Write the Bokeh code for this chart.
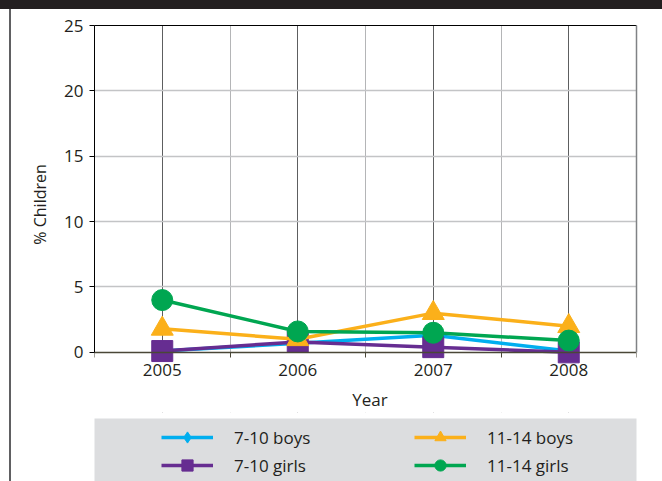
from bokeh.plotting import figure
from bokeh.models import (Range1d, FixedTicker, LinearAxis, Legend, LegendItem,
                          BoxAnnotation, Spacer)
from bokeh.layouts import column, row
from bokeh.embed import file_html
from bokeh.resources import INLINE

# ---- data ----
years = [2005, 2006, 2007, 2008]
boys_7_10 = [0.1, 0.7, 1.3, 0.1]
girls_7_10 = [0.1, 0.8, 0.4, 0.0]
boys_11_14 = [1.8, 1.0, 3.0, 2.0]
girls_11_14 = [4.0, 1.6, 1.5, 0.9]
series_labels = ["7-10 boys", "7-10 girls", "11-14 boys", "11-14 girls"]
y_ticks = [0, 5, 10, 15, 20, 25]
year_bounds = [2004.5, 2005.5, 2006.5, 2007.5, 2008.5]

FONT = "Open Sans"
TXT = "#231f20"
BLUE, PURPLE, ORANGE, GREEN = "#00aeef", "#662d91", "#fbb01a", "#00a651"

Y_LOW = -4.6  # frame extends below zero so the x-axis labels (drawn at y=0) are not clipped

p = figure(width=651, height=409,
           x_range=Range1d(2004.5, 2008.5), y_range=Range1d(Y_LOW, 25),
           output_backend="svg", toolbar_location=None,
           min_border_left=82, min_border_right=26, min_border_top=16, min_border_bottom=6,
           outline_line_color=None,
           x_axis_label="\u00a0\u00a0Year", y_axis_label="\u00a0" * 7 + "% Children")

# x axis (at y = 0)
xa = p.xaxis[0]
xa.ticker = FixedTicker(ticks=years, minor_ticks=year_bounds)
xa.fixed_location = 0
xa.major_tick_out = 0
xa.major_tick_in = 0
xa.minor_tick_out = 5
xa.minor_tick_in = 0
xa.minor_tick_line_color = "#4a4737"
xa.axis_line_color = "#4a4737"
xa.axis_line_width = 1.5
xa.major_label_standoff = 7
xa.major_label_text_font = FONT
xa.major_label_text_font_size = "17px"
xa.major_label_text_color = TXT
xa.axis_label_standoff = 8
xa.axis_label_text_font = FONT
xa.axis_label_text_font_size = "17px"
xa.axis_label_text_font_style = "normal"
xa.axis_label_text_color = TXT

ya = p.yaxis[0]
ya.ticker = FixedTicker(ticks=y_ticks)
ya.bounds = (0, 25)
ya.major_tick_out = 5
ya.major_tick_in = 0
ya.minor_tick_out = 0
ya.axis_line_color = "black"
ya.major_tick_line_color = "black"
ya.major_label_standoff = 6
ya.major_label_text_font = FONT
ya.major_label_text_font_size = "17px"
ya.major_label_text_color = TXT
ya.axis_label_standoff = 10
ya.axis_label_text_font = FONT
ya.axis_label_text_font_size = "16px"
ya.axis_label_text_font_style = "normal"
ya.axis_label_text_color = TXT

right_ax = LinearAxis(ticker=FixedTicker(ticks=[]), bounds=(0, 25),
                      axis_line_color="#808285", axis_line_width=1.5,
                      major_tick_line_color=None, minor_tick_line_color=None)
p.add_layout(right_ax, "right")
top_ax = LinearAxis(ticker=FixedTicker(ticks=[]), axis_line_color="black",
                    major_tick_line_color=None, minor_tick_line_color=None)
p.add_layout(top_ax, "above")

# grids
p.xgrid.ticker = FixedTicker(ticks=years, minor_ticks=year_bounds)
p.xgrid.grid_line_color = "#5d5e60"
p.xgrid.grid_line_width = 1
p.xgrid.minor_grid_line_color = "#b4b5b7"
p.xgrid.level = "image"
p.ygrid.ticker = FixedTicker(ticks=[5, 10, 15, 20])
p.ygrid.grid_line_color = "#c3c4c6"
p.ygrid.grid_line_width = 1.5
p.ygrid.level = "image"

# hide grid below zero
p.add_layout(BoxAnnotation(bottom=Y_LOW, top=0, fill_color="white", fill_alpha=1,
                           line_color=None, level="underlay"))

# series
p.line(years, boys_7_10, line_color=BLUE, line_width=3.5)
p.scatter(years, boys_7_10, marker="diamond", size=18, color=BLUE)
p.line(years, girls_7_10, line_color=PURPLE, line_width=3.5)
p.scatter(years, girls_7_10, marker="square", size=21, color=PURPLE)
p.line(years, boys_11_14, line_color=ORANGE, line_width=3.5)
p.scatter(years, boys_11_14, marker="triangle", size=22, color=ORANGE)
p.line(years, girls_11_14, line_color=GREEN, line_width=3.5)
p.scatter(years, girls_11_14, marker="circle", size=21, color=GREEN)

# ---- legend panel ----
lg = figure(width=651, height=63, x_range=Range1d(0, 1), y_range=Range1d(0, 1),
            output_backend="svg", toolbar_location=None,
            min_border_left=83, min_border_right=24, min_border_top=0, min_border_bottom=0,
            outline_line_color=None, background_fill_color="#dcdddf",
            border_fill_color="white", x_axis_type=None, y_axis_type=None)

items = []
for lab, vals, col, mk in zip(series_labels,
                              [boys_7_10, girls_7_10, boys_11_14, girls_11_14],
                              [BLUE, PURPLE, ORANGE, GREEN],
                              ["diamond", "square", "triangle", "circle"]):
    # data lies outside this panel's ranges: only the legend swatches show
    r1 = lg.line(years, vals, line_color=col, line_width=3.5)
    r2 = lg.scatter(years, vals, marker=mk, color=col)
    items.append(LegendItem(label=lab, renderers=[r1, r2]))

legend = Legend(items=items, location=(67, 2), ncols=2, padding=0, spacing=0, margin=0,
                glyph_width=52, glyph_height=28, label_height=28, label_width=180,
                label_standoff=21, background_fill_alpha=0, border_line_color=None,
                label_text_font=FONT, label_text_font_size="17px", label_text_color=TXT)
lg.add_layout(legend)

band = Spacer(width=662, height=9, styles={"background-color": "#231f20"})
gap = Spacer(width=9, height=472)
edge = Spacer(width=2, height=472, styles={"background-color": "#606062"})
layout = column(band, row(gap, edge, column(p, lg)))

open("out.html", "w").write(file_html(layout, INLINE))
